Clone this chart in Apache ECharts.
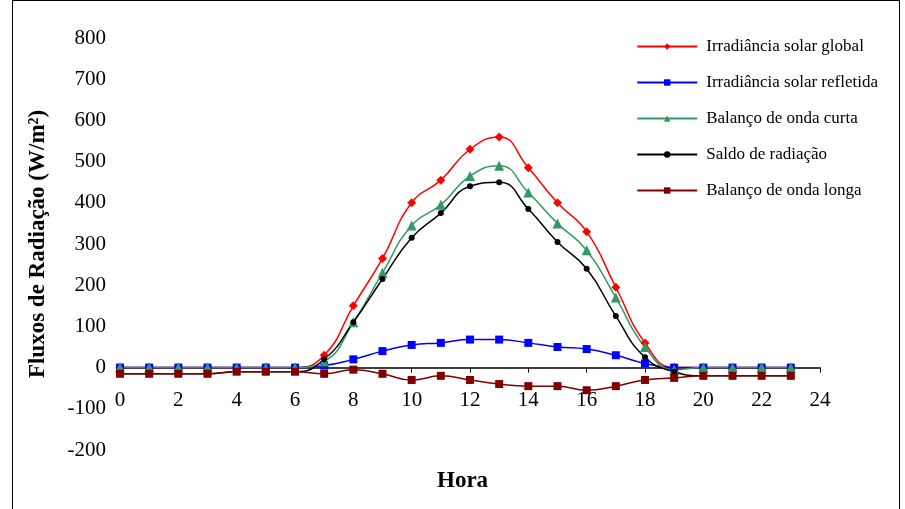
<!DOCTYPE html>
<html><head><meta charset="utf-8">
<script src="https://cdn.jsdelivr.net/npm/echarts@6/dist/echarts.min.js"></script>
<style>body{margin:0;background:#fff}#c{width:905px;height:509px;position:absolute;left:0;top:0}
#f{position:absolute;left:12px;top:0;width:886px;height:520px;border:1px solid #000}</style>
</head><body><div id="f"></div><div id="c"></div>
<script>
var horas = [0,1,2,3,4,5,6,7,8,9,10,11,12,13,14,15,16,17,18,19,20,21,22,23];
var global = [0,0,0,0,0,0,0,30,150,265,400,455,530,560,485,400,330,195,60,0,0,0,0,0];
var refletida = [0,0,0,0,0,0,0,5,20,40,55,60,68,68,60,50,45,30,10,0,0,0,0,0];
var ondaCurta = [0,0,0,0,0,0,0,15,110,230,345,395,465,490,425,350,285,170,50,-5,0,0,0,0];
var saldo = [-15,-15,-15,-15,-10,-10,-10,20,110,215,315,375,440,450,385,305,240,125,25,-10,-20,-20,-20,-20];
var ondaLonga = [-15,-15,-15,-15,-10,-10,-10,-15,-5,-15,-30,-20,-30,-40,-45,-45,-55,-45,-30,-25,-20,-20,-20,-20];

var chart = echarts.init(document.getElementById('c'));
function mk(name, data, color, symbol, size) {
    return {name: name, type: 'line', smooth: true, data: horas.map(function (h, i) { return [h, data[i]]; }),
        symbol: symbol, symbolSize: size, lineStyle: {color: color, width: 1.5}, itemStyle: {color: color}};
}
chart.setOption({
    animation: false,
    textStyle: {fontFamily: 'Liberation Serif'},
    grid: {left: 120, right: 85, top: 38, bottom: 59, outerBoundsMode: 'none', containLabel: false},
    legend: {
        orient: 'vertical', right: 22, top: 33, itemGap: 19, itemWidth: 60, itemHeight: 8,
        textStyle: {fontSize: 17, color: '#000', fontFamily: 'Liberation Serif', padding: [0, 0, 0, 4]},
        data: ['Irradiância solar global', 'Irradiância solar refletida', 'Balanço de onda curta', 'Saldo de radiação', 'Balanço de onda longa']
    },
    graphic: [{type: 'text', left: 437, top: 470, style: {text: 'Hora', fontSize: 23, fontWeight: 'bold', fill: '#000', fontFamily: 'Liberation Serif'}}],
    xAxis: {
        type: 'value', min: 0, max: 24, interval: 2,
        axisLine: {onZero: true, lineStyle: {color: '#000', width: 1.5}},
        axisTick: {show: true, inside: false, length: 5, lineStyle: {color: '#000'}},
        axisLabel: {fontSize: 21, color: '#000', margin: -60},
        splitLine: {show: false}
    },
    yAxis: {
        type: 'value', min: -200, max: 800, interval: 100,
        name: 'Fluxos de Radiação (W/m²)', nameLocation: 'middle', nameGap: 70,
        nameTextStyle: {fontSize: 23, fontWeight: 'bold', color: '#000'},
        axisLine: {show: false},
        axisTick: {show: false},
        axisLabel: {fontSize: 21, color: '#000', margin: 14},
        splitLine: {show: false}
    },
    series: [
        mk('Irradiância solar global', global, '#ff0000', 'diamond', 9),
        mk('Irradiância solar refletida', refletida, '#0000ff', 'rect', 8),
        mk('Balanço de onda curta', ondaCurta, '#339966', 'triangle', 10),
        mk('Saldo de radiação', saldo, '#000000', 'circle', 6),
        mk('Balanço de onda longa', ondaLonga, '#800000', 'rect', 8)
    ]
});
</script></body></html>
